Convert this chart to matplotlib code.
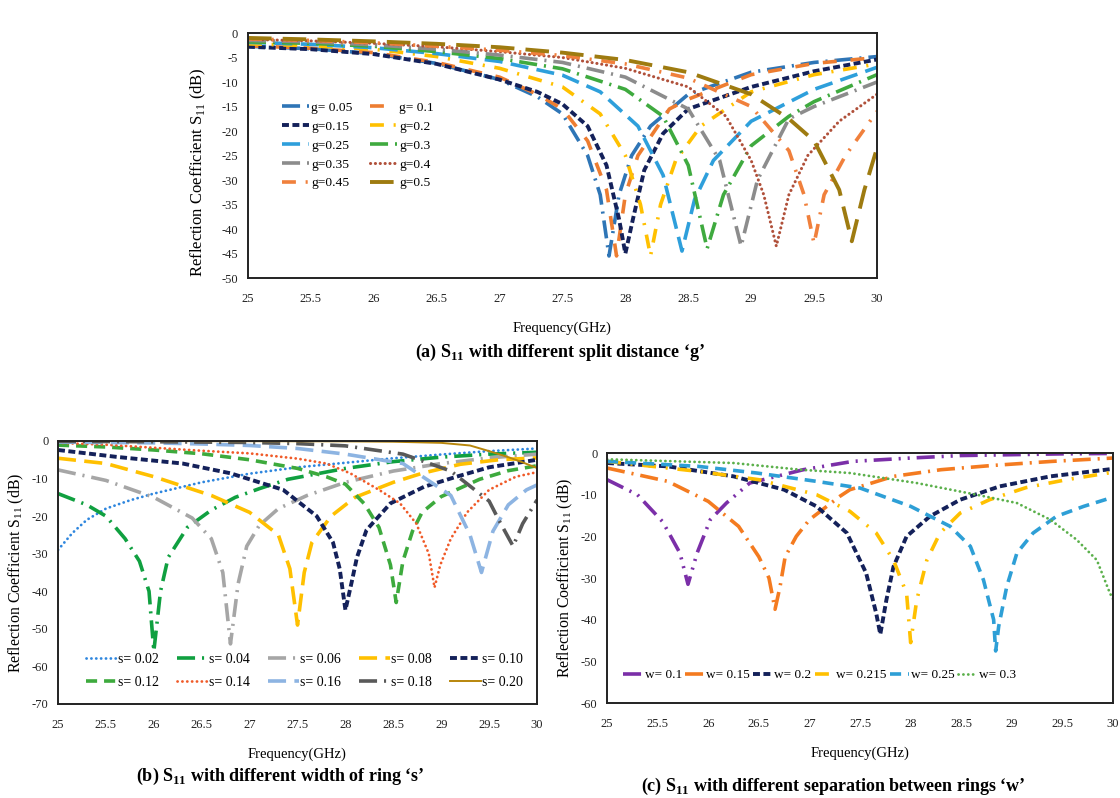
#!/usr/bin/env python3
"""s11_parametric.py - S11 sweeps for split distance g, ring width s and ring separation w"""

import matplotlib
matplotlib.use("Agg")
import matplotlib.pyplot as plt
from matplotlib.ticker import FuncFormatter

# ---- (a) split distance g : frequency (GHz) / S11 (dB)
g005_f = [25, 25.5, 26, 26.5, 27, 27.3, 27.5, 27.7, 27.8, 27.87, 27.95, 28.05, 28.2, 28.5, 29, 29.5, 30]
g005_db = [-2.7, -3.2, -4.2, -6.2, -9.5, -13, -16.5, -25, -33, -45.5, -33, -25, -19, -12.5, -8, -6, -4.8]
g01_f = [25, 25.5, 26, 26.5, 27, 27.3, 27.5, 27.7, 27.85, 27.93, 28.0, 28.1, 28.35, 28.5, 29, 29.5, 30]
g01_db = [-2.6, -3.1, -4, -6, -9, -12.5, -15.5, -22, -32, -45.5, -33, -25, -15.5, -13.5, -8.5, -6.2, -5]
g015_f = [25, 25.5, 26, 26.5, 27, 27.3, 27.5, 27.7, 27.85, 27.95, 28.0, 28.06, 28.15, 28.3, 28.5, 29, 29.5, 30]
g015_db = [-2.8, -3.3, -4.3, -6.3, -9.5, -12, -14.5, -19, -27, -38, -45, -38, -28, -20.5, -15.5, -11, -7.8, -5.4]
g02_f = [25, 25.5, 26, 26.5, 27, 27.5, 27.8, 28.0, 28.12, 28.2, 28.28, 28.4, 28.6, 29, 29.5, 30]
g02_db = [-2.2, -2.6, -3.3, -4.8, -7.2, -11, -16.5, -25, -35, -45.5, -35, -26, -19, -12, -8.5, -6.3]
g025_f = [25, 25.5, 26, 26.5, 27, 27.5, 27.8, 28.1, 28.3, 28.45, 28.55, 28.7, 29, 29.5, 30]
g025_db = [-1.9, -2.3, -3, -4.2, -5.8, -8.6, -12, -19, -29, -44.5, -34, -26, -18, -11.5, -7]
g03_f = [25, 25.5, 26, 26.5, 27, 27.5, 28, 28.3, 28.5, 28.65, 28.78, 29, 29.3, 29.5, 30]
g03_db = [-1.8, -2.1, -2.7, -3.8, -5.2, -7.3, -11.5, -17, -27, -44, -33, -23, -17, -14, -8.5]
g035_f = [25, 25.5, 26, 26.5, 27, 27.5, 28, 28.5, 28.75, 28.92, 29.05, 29.3, 29.5, 30]
g035_db = [-1.5, -1.8, -2.4, -3.3, -4.5, -6, -9, -15.5, -26, -43.5, -30, -17.5, -15, -10]
g04_f = [25, 25.5, 26, 26.5, 27, 27.5, 28, 28.5, 28.8, 29, 29.1, 29.2, 29.3, 29.45, 29.7, 30]
g04_db = [-1.3, -1.6, -2.1, -2.8, -3.8, -5, -7.2, -11, -17, -26, -33, -43.5, -33, -25, -18, -12.5]
g045_f = [25, 25.5, 26, 26.5, 27, 27.5, 28, 28.5, 29, 29.3, 29.42, 29.5, 29.58, 29.75, 30]
g045_db = [-1.2, -1.5, -2, -2.7, -3.5, -4.6, -6.3, -9.2, -15, -24, -33, -43, -33, -25, -16]
g05_f = [25, 25.5, 26, 26.5, 27, 27.5, 28, 28.5, 29, 29.3, 29.5, 29.7, 29.8, 29.9, 30]
g05_db = [-1.0, -1.3, -1.7, -2.2, -2.9, -4, -5.5, -8, -12.5, -17.5, -22, -32, -42.5, -32, -23.5]

# ---- (b) ring width s
s002_f = [25, 25.15, 25.3, 25.5, 25.75, 26, 26.5, 27, 27.5, 28, 28.5, 29, 29.5, 30]
s002_db = [-29, -24.5, -21, -18, -15.8, -14, -11, -8.7, -7, -5.8, -4.6, -3.6, -2.7, -2]
s004_f = [25, 25.3, 25.5, 25.7, 25.85, 25.95, 26.0, 26.07, 26.15, 26.35, 26.6, 26.85, 27.1, 27.4, 28, 28.5, 29, 29.5, 30]
s004_db = [-14, -17, -20, -26, -32, -40, -56, -40, -31, -23, -18.4, -15, -12.7, -10.2, -7.3, -5.5, -4.3, -3.5, -3]
s006_f = [25, 25.5, 26, 26.4, 26.6, 26.72, 26.8, 26.88, 26.97, 27.1, 27.3, 27.6, 28, 28.5, 29, 29.5, 30]
s006_db = [-7.7, -10.5, -15, -20.5, -26, -35, -54, -38, -28, -22.5, -18, -14.5, -11, -8, -6, -4.5, -3.5]
s008_f = [25, 25.5, 26, 26.6, 27, 27.3, 27.42, 27.5, 27.57, 27.65, 27.85, 28.1, 28.5, 28.8, 29.2, 29.6, 30]
s008_db = [-4.6, -6, -9.5, -14.5, -19, -25, -34, -49, -35, -27, -20, -15, -11, -8.6, -6.2, -5, -4.5]
s010_f = [25, 25.6, 26.3, 26.8, 27.35, 27.7, 27.87, 27.94, 28.0, 28.07, 28.12, 28.22, 28.47, 28.82, 29.16, 29.5, 30]
s010_db = [-2.4, -4.2, -6, -8.6, -13, -20, -27, -34, -45, -37, -31, -23.7, -16.6, -12.2, -9.5, -7, -5]
s012_f = [25, 25.5, 26, 26.5, 27, 27.5, 27.8, 28.0, 28.2, 28.35, 28.47, 28.53, 28.6, 28.7, 28.8, 29, 29.4, 29.7, 30]
s012_db = [-1.1, -1.6, -2.4, -3.4, -5, -7.3, -9.5, -11.5, -16.8, -23, -33, -43, -32, -24, -19, -14.8, -10.2, -7.9, -6.6]
s014_f = [25, 25.5, 26, 26.5, 27, 27.5, 27.8, 28.05, 28.35, 28.57, 28.74, 28.87, 28.93, 28.99, 29.1, 29.27, 29.5, 29.78, 30]
s014_db = [-0.5, -1, -1.8, -2.6, -3.3, -4.7, -6, -8.6, -13, -16.6, -22, -30, -39, -33, -26, -19, -13, -9.5, -8.3]
s016_f = [25, 26, 26.5, 27, 27.5, 28, 28.6, 29.1, 29.3, 29.42, 29.54, 29.7, 29.89, 30]
s016_db = [-0.3, -0.5, -0.8, -1.2, -2, -3.5, -6, -14.5, -25, -35, -24, -17, -13, -11.7]
s018_f = [25, 26, 27, 27.5, 28, 28.6, 29.1, 29.5, 29.6, 29.75, 29.85, 30]
s018_db = [-0.1, -0.2, -0.4, -0.7, -1.3, -3.5, -8, -16, -21, -28, -22, -15.7]
s020_f = [25, 28, 28.5, 29, 29.3, 29.5, 29.7, 29.85, 30]
s020_db = [0, -0.1, -0.2, -0.5, -1.2, -2.7, -4.3, -5.7, -7.2]

# ---- (c) ring separation w
w01_f = [25, 25.3, 25.55, 25.72, 25.8, 25.89, 26.02, 26.18, 26.41, 26.94, 27.43, 28, 28.5, 29, 29.5, 30]
w01_db = [-6.4, -10, -16.5, -24, -31.5, -24, -16, -12, -7.2, -4, -2, -1.2, -0.6, -0.4, -0.2, -0.1]
w015_f = [25, 25.6, 26.0, 26.3, 26.5, 26.6, 26.66, 26.71, 26.76, 26.87, 27.0, 27.3, 27.4, 27.83, 28.3, 28.8, 29.4, 30]
w015_db = [-3.6, -6.8, -11.6, -17.6, -24.9, -30, -37.5, -32, -24.9, -20, -16, -10.4, -8.8, -5.6, -4, -3, -2, -1.2]
w02_f = [25, 25.6, 26.25, 26.75, 27.07, 27.37, 27.56, 27.66, 27.7, 27.76, 27.83, 27.96, 28.19, 28.49, 28.88, 29.38, 30]
w02_db = [-2.4, -3.2, -5.6, -8.8, -12.8, -19.2, -28.8, -38.5, -43.5, -35.3, -27.3, -20, -15.2, -11.2, -8, -5.6, -3.8]
w0215_f = [25, 25.9, 26.5, 27.07, 27.4, 27.66, 27.83, 27.96, 28.0, 28.06, 28.16, 28.29, 28.49, 28.78, 29.14, 29.54, 30]
w0215_db = [-2, -4.4, -6.4, -10, -14, -19.2, -25.7, -33.7, -45.5, -35.3, -25.7, -19.2, -14.4, -11.2, -8.3, -6.4, -4.6]
w025_f = [25, 25.9, 26.48, 27.07, 27.5, 28.0, 28.39, 28.59, 28.72, 28.82, 28.84, 28.87, 28.95, 29.05, 29.21, 29.44, 29.71, 30]
w025_db = [-2, -3.2, -4.8, -6.8, -8.4, -12.8, -17.6, -22.4, -30.5, -40, -47.5, -41.6, -32, -24, -19.2, -15.2, -12.8, -10.6]
w03_f = [25, 26.25, 26.91, 27.4, 28.06, 28.65, 29.05, 29.38, 29.64, 29.84, 29.97, 30]
w03_db = [-1.5, -2.4, -4, -4.8, -7.2, -10, -12, -16, -20.8, -25.7, -33.7, -35]

g_labels = ["g= 0.05", "g= 0.1", "g=0.15", "g=0.2", "g=0.25", "g=0.3", "g=0.35", "g=0.4", "g=0.45", "g=0.5"]
s_labels = ["s= 0.02", "s= 0.04", "s= 0.06", "s= 0.08", "s= 0.10",
            "s= 0.12", "s= 0.14", "s= 0.16", "s= 0.18", "s= 0.20"]
w_labels = ["w= 0.1", "w= 0.15", "w= 0.2", "w= 0.215", "w= 0.25", "w= 0.3"]

# line styles (dash lengths in points, not scaled by width)
LDD = (0, (13, 5, 1.5, 5))            # long dash dot
LDDD = (0, (13, 5, 1.5, 5, 1.5, 5))   # long dash dot dot
LD = (0, (13, 6))                     # long dash
LD2 = (0, (17, 8))                    # longer dash (g=0.5)
DSH = (0, (8, 5))                     # dash
SD = (0, (5, 2.5))                    # short dash
DD = (0, (10, 7, 1.5, 7))             # dash dot
GAP = (0, (10, 10))                   # dash, wide gap
DOT = (0, (0.1, 3.4))                 # round dots

plt.rcParams["font.family"] = ["Liberation Serif", "DejaVu Serif"]
plt.rcParams["mathtext.fontset"] = "custom"
plt.rcParams["mathtext.rm"] = "Liberation Serif"
plt.rcParams["mathtext.bf"] = "Liberation Serif:bold"
plt.rcParams["lines.scale_dashes"] = False
plt.rcParams["axes.unicode_minus"] = False


def panel(ax, curves, labels, styles, ylim, ystep, ylabel_size=11.4):
    handles = []
    for (f, db), lab, (col, ls, lw) in zip(curves, labels, styles):
        h, = ax.plot(f, db, color=col, linestyle=ls, linewidth=lw, label=lab,
                     dash_capstyle="round" if ls == DOT else "butt")
        handles.append(h)
    ax.set_xlim(25, 30)
    ax.set_ylim(ylim, 0)
    ax.set_xticks([25 + 0.5 * i for i in range(11)])
    ax.set_yticks(list(range(ylim, 1, ystep)))
    ax.xaxis.set_major_formatter(FuncFormatter(lambda v, p: "{:g}".format(v)))
    ax.tick_params(length=0, labelsize=9, labelcolor="#222222")
    ax.tick_params(axis="x", pad=11)
    ax.tick_params(axis="y", pad=7)
    for sp in ax.spines.values():
        sp.set_linewidth(1.4)
        sp.set_color("#222222")
    ax.set_xlabel("Frequency(GHz)", fontsize=10.5, labelpad=12)
    ax.set_ylabel("Reflection Coefficient S$_{11}$ (dB)", fontsize=ylabel_size, labelpad=4)
    return handles


def main():
    fig = plt.figure(figsize=(11.2, 7.98), dpi=100)

    # (a)
    ax_a = fig.add_axes([0.2214, 0.6516, 0.5616, 0.3070])
    curves_a = [(g005_f, g005_db), (g01_f, g01_db), (g015_f, g015_db), (g02_f, g02_db),
                (g025_f, g025_db), (g03_f, g03_db), (g035_f, g035_db), (g04_f, g04_db),
                (g045_f, g045_db), (g05_f, g05_db)]
    styles_a = [("#2E75B6", LDD, 2.6), ("#ED7D31", GAP, 2.6), ("#14215A", SD, 2.8),
                ("#FFC000", DD, 2.6), ("#2E9FDB", LD, 2.6), ("#3FAA3F", LDD, 2.6),
                ("#8C8C8C", LDD, 2.6), ("#B0503A", DOT, 2.2), ("#F0803C", DD, 2.6),
                ("#9E7B10", LD2, 2.8)]
    h = panel(ax_a, curves_a, g_labels, styles_a, -50, 5, ylabel_size=12)
    ax_a.yaxis.set_label_coords(-0.064, 0.433)
    order = [0, 2, 4, 6, 8, 1, 3, 5, 7, 9]
    ax_a.legend([h[i] for i in order], [g_labels[i] for i in order], ncol=2,
                loc="upper left", bbox_to_anchor=(0.046, 0.743), frameon=False,
                fontsize=9.7, handlelength=2.0, handletextpad=0.15, columnspacing=1.3,
                labelspacing=0.48, borderaxespad=0)
    fig.text(0.5, 1 - 352 / 798, "(a) S$_{\\mathbf{11}}$ with different split distance \u2018g\u2019",
             ha="center", va="center", fontsize=13, fontweight="bold")

    # (b)
    ax_b = fig.add_axes([0.0518, 0.1178, 0.4277, 0.3296])
    curves_b = [(s002_f, s002_db), (s004_f, s004_db), (s006_f, s006_db), (s008_f, s008_db),
                (s010_f, s010_db), (s012_f, s012_db), (s014_f, s014_db), (s016_f, s016_db),
                (s018_f, s018_db), (s020_f, s020_db)]
    styles_b = [("#2E86DE", DOT, 2.0), ("#10A040", LDD, 2.6), ("#A6A6A6", LDD, 2.6),
                ("#FFC000", LD, 2.6), ("#14215A", SD, 2.8), ("#3DAA3D", DSH, 2.6),
                ("#F05A28", DOT, 2.0), ("#8DB4E2", LD, 2.6), ("#595959", LDD, 2.6),
                ("#B8860B", "-", 1.4)]
    h = panel(ax_b, curves_b, s_labels, styles_b, -70, 10)
    order = [0, 5, 1, 6, 2, 7, 3, 8, 4, 9]
    ax_b.legend([h[i] for i in order], [s_labels[i] for i in order], ncol=5,
                loc="center", bbox_to_anchor=(0.515, 0.125), frameon=False,
                fontsize=10, handlelength=2.2, handletextpad=0.1, columnspacing=1.3,
                labelspacing=0.7, borderaxespad=0)
    fig.text(280 / 1120, 1 - 776 / 798, "(b) S$_{\\mathbf{11}}$ with different width of ring \u2018s\u2019",
             ha="center", va="center", fontsize=13, fontweight="bold")

    # (c)
    ax_c = fig.add_axes([0.5420, 0.1190, 0.4518, 0.3133])
    curves_c = [(w01_f, w01_db), (w015_f, w015_db), (w02_f, w02_db), (w0215_f, w0215_db),
                (w025_f, w025_db), (w03_f, w03_db)]
    styles_c = [("#7B2FA8", LDDD, 2.6), ("#F47B20", LDD, 2.6), ("#14215A", SD, 2.8),
                ("#FFC000", DD, 2.6), ("#2E9FD6", DSH, 2.6), ("#5BB04B", DOT, 2.0)]
    h = panel(ax_c, curves_c, w_labels, styles_c, -60, 10)
    ax_c.legend(h, w_labels, ncol=6, loc="center", bbox_to_anchor=(0.42, 0.112),
                frameon=False, fontsize=9.5, handlelength=1.5, handletextpad=0.1,
                columnspacing=0.25, borderaxespad=0)
    fig.text(833 / 1120, 1 - 786 / 798,
             "(c) S$_{\\mathbf{11}}$ with different separation between rings \u2018w\u2019",
             ha="center", va="center", fontsize=13, fontweight="bold")

    fig.savefig("out.png", dpi=100, facecolor="white")


if __name__ == "__main__":
    main()
